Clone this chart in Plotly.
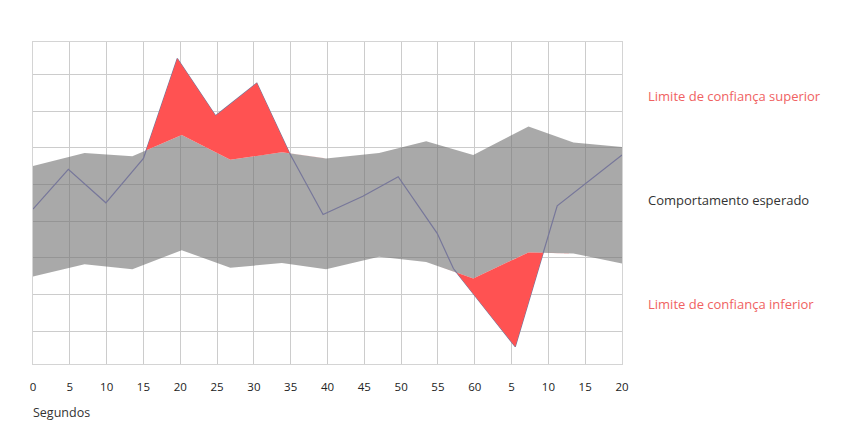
import numpy as np
import plotly.graph_objects as go

# ---- data (seconds on x, arbitrary units on y) ----
band_x = [0, 7, 13.5, 20.2, 26.8, 33.8, 39.8, 47, 53.4, 59.8, 67.3, 73.4, 80]
band_upper = [45.0, 48.6, 47.7, 53.5, 46.7, 48.8, 47.1, 48.6, 51.8, 48.0, 55.8, 51.4, 50.2]
band_lower = [14.9, 18.3, 16.9, 22.1, 17.3, 18.6, 16.9, 20.3, 18.9, 14.4, 21.5, 21.2, 18.5]

line_x = [0, 4.8, 9.9, 15.0, 19.6, 24.8, 30.4, 34.8, 39.4, 44.8, 49.6, 54.9, 57.1, 65.5, 71.2, 80]
line_y = [33.3, 44.1, 35.0, 47.1, 74.3, 58.7, 67.6, 48.7, 31.8, 36.8, 42.1, 26.7, 17.1, -4.2, 34.2, 48.0]

tick_vals = list(range(0, 81, 5))
tick_text = ["0", "5", "10", "15", "20", "25", "30", "35", "40", "45", "50", "55", "60",
             "5", "10", "15", "20"]

labels = ["Limite de confiança superior", "Comportamento esperado", "Limite de confiança inferior"]

RED = "#ff5252"
GRAY_FILL = "rgba(112,112,112,0.6)"
LINE_COLOR = "#77779a"


def merged(xa, ya, xb, yb):
    xs = sorted(set(xa) | set(xb))
    a = np.interp(xs, xa, ya)
    b = np.interp(xs, xb, yb)
    ox, oa, ob = [xs[0]], [a[0]], [b[0]]
    for i in range(1, len(xs)):
        d0 = a[i - 1] - b[i - 1]
        d1 = a[i] - b[i]
        if d0 * d1 < 0:
            t = d0 / (d0 - d1)
            xc = xs[i - 1] + t * (xs[i] - xs[i - 1])
            yc = a[i - 1] + t * (a[i] - a[i - 1])
            ox.append(xc); oa.append(yc); ob.append(yc)
        ox.append(xs[i]); oa.append(a[i]); ob.append(b[i])
    return np.array(ox), np.array(oa), np.array(ob)


fig = go.Figure()

# confidence band
fig.add_trace(go.Scatter(x=band_x, y=band_lower, mode="lines", line=dict(width=0),
                         hoverinfo="skip", showlegend=False))
fig.add_trace(go.Scatter(x=band_x, y=band_upper, mode="lines", line=dict(width=0),
                         fill="tonexty", fillcolor=GRAY_FILL, hoverinfo="skip", showlegend=False))

# expected behaviour line
fig.add_trace(go.Scatter(x=line_x, y=line_y, mode="lines",
                         line=dict(color=LINE_COLOR, width=1.2), showlegend=False))

# excursions above upper bound
ux, ul, uu = merged(line_x, line_y, band_x, band_upper)
fig.add_trace(go.Scatter(x=ux, y=uu, mode="lines", line=dict(width=0), hoverinfo="skip",
                         showlegend=False))
fig.add_trace(go.Scatter(x=ux, y=np.maximum(ul, uu), mode="lines", line=dict(width=0),
                         fill="tonexty", fillcolor=RED, hoverinfo="skip", showlegend=False))

# excursions below lower bound
lx, ll, lb = merged(line_x, line_y, band_x, band_lower)
fig.add_trace(go.Scatter(x=lx, y=lb, mode="lines", line=dict(width=0), hoverinfo="skip",
                         showlegend=False))
fig.add_trace(go.Scatter(x=lx, y=np.minimum(ll, lb), mode="lines", line=dict(width=0),
                         fill="tonexty", fillcolor=RED, hoverinfo="skip", showlegend=False))

label_colors = ["#f06262", "#333333", "#f06262"]
label_y = [0.8315, 0.5088, 0.186]
for txt, col, yy in zip(labels, label_colors, label_y):
    fig.add_annotation(text=txt, xref="paper", yref="paper", x=1.0413, y=yy,
                       xanchor="left", yanchor="middle", showarrow=False,
                       font=dict(family="Open Sans", size=13, color=col))

fig.add_annotation(text="Segundos", xref="paper", yref="paper", x=-0.004, y=-0.152,
                   xanchor="left", yanchor="middle", showarrow=False,
                   font=dict(family="Open Sans", size=12.5, color="#333333"))

fig.update_layout(
    width=851, height=439,
    margin=dict(l=25, r=237, t=34, b=83),
    paper_bgcolor="white", plot_bgcolor="white",
    font=dict(family="Open Sans", size=11, color="#333333"),
    showlegend=False,
)
fig.update_xaxes(range=[0, 80], tickvals=tick_vals, ticktext=tick_text,
                 showgrid=True, gridcolor="#cccccc", gridwidth=1, zeroline=False,
                 showline=True, linecolor="#d4d4d4", linewidth=1, mirror=True,
                 ticks="outside", ticklen=12, tickcolor="rgba(0,0,0,0)",
                 tickfont=dict(family="Open Sans", size=11.5, color="#222222"))
fig.update_yaxes(range=[-8.9, 78.8], tick0=0, dtick=10, showticklabels=False,
                 showgrid=True, gridcolor="#cccccc", gridwidth=1, zeroline=False,
                 showline=True, linecolor="#d4d4d4", linewidth=1, mirror=True)

fig.write_html("out.html")
